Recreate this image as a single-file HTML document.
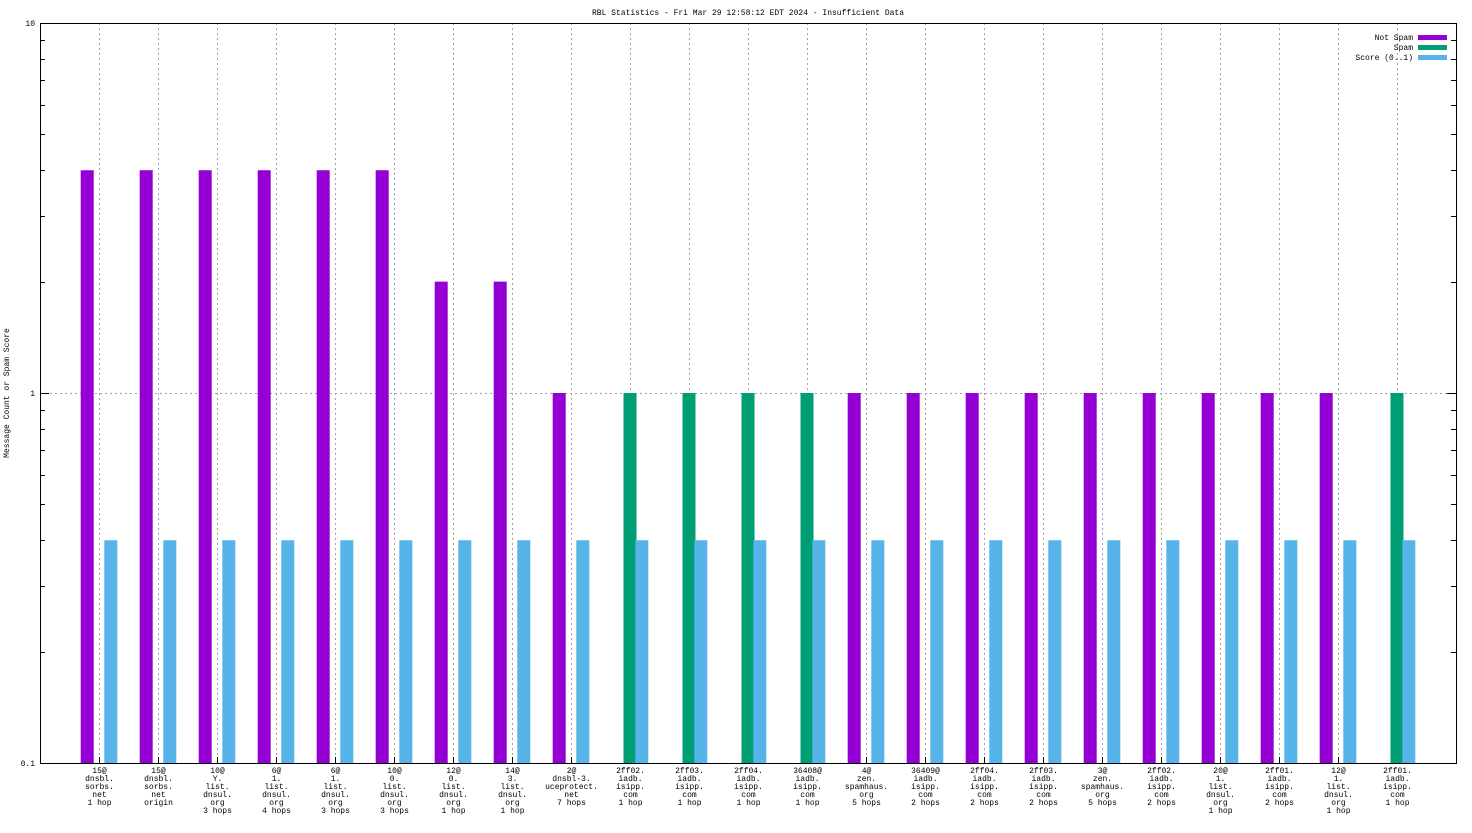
<!DOCTYPE html>
<html><head><meta charset="utf-8"><style>
html,body{margin:0;padding:0;background:#fff;}
svg text{font-family:"Liberation Mono","DejaVu Sans Mono",monospace;font-size:8px;fill:#000;}
</style></head><body>
<svg id="chart" width="1472" height="828" xmlns="http://www.w3.org/2000/svg">
<text x="748" y="15" text-anchor="middle">RBL Statistics - Fri Mar 29 12:58:12 EDT 2024 - Insufficient Data</text>
<text transform="translate(9,393) rotate(-90)" text-anchor="middle">Message Count or Spam Score</text>
<g id="grid"></g><g id="bars"></g><g id="axes"></g><g id="legend"></g>
</svg>
<script>
const categories = [
["15@","dnsbl.","sorbs.","net","1 hop"],["15@","dnsbl.","sorbs.","net","origin"],
["10@","Y.","list.","dnsul.","org","3 hops"],["6@","1.","list.","dnsul.","org","4 hops"],
["6@","1.","list.","dnsul.","org","3 hops"],["10@","0.","list.","dnsul.","org","3 hops"],
["12@","0.","list.","dnsul.","org","1 hop"],["14@","3.","list.","dnsul.","org","1 hop"],
["2@","dnsbl-3.","uceprotect.","net","7 hops"],["2ff02.","iadb.","isipp.","com","1 hop"],
["2ff03.","iadb.","isipp.","com","1 hop"],["2ff04.","iadb.","isipp.","com","1 hop"],
["36408@","iadb.","isipp.","com","1 hop"],["4@","zen.","spamhaus.","org","5 hops"],
["36409@","iadb.","isipp.","com","2 hops"],["2ff04.","iadb.","isipp.","com","2 hops"],
["2ff03.","iadb.","isipp.","com","2 hops"],["3@","zen.","spamhaus.","org","5 hops"],
["2ff02.","iadb.","isipp.","com","2 hops"],["20@","1.","list.","dnsul.","org","1 hop"],
["2ff01.","iadb.","isipp.","com","2 hops"],["12@","1.","list.","dnsul.","org","1 hop"],
["2ff01.","iadb.","isipp.","com","1 hop"]];
const notSpam = [4,4,4,4,4,4,2,2,1,0,0,0,0,1,1,1,1,1,1,1,1,1,0];
const spam    = [0,0,0,0,0,0,0,0,0,1,1,1,1,0,0,0,0,0,0,0,0,0,1];
const score   = [0.4,0.4,0.4,0.4,0.4,0.4,0.4,0.4,0.4,0.4,0.4,0.4,0.4,0.4,0.4,0.4,0.4,0.4,0.4,0.4,0.4,0.4,0.4];
const yTicks = [0.1,1,10];
const yTickLabels = ["0.1","1","10"];

const L=40,R=1456,T=23,B=763,NS="http://www.w3.org/2000/svg";
const xS=v=>L+(v+1)*(R-L)/24;
const yS=v=>B-(Math.log10(v)+1)*(B-T)/2;
function mk(tag,attrs,parent,txt){const e=document.createElementNS(NS,tag);for(const k in attrs)e.setAttribute(k,attrs[k]);if(txt!=null)e.textContent=txt;document.getElementById(parent).appendChild(e);return e;}
categories.forEach((c,i)=>{const x=Math.round(xS(i))+0.5;
 const g=mk('line',{x1:x,x2:x,y1:T,y2:B,stroke:'#a0a0a0','stroke-dasharray':'2,3','stroke-width':1},'grid');
 
 
 const t=mk('line',{x1:x,x2:x,y1:B,y2:B-6,stroke:'#000'},'grid');
 
 
 const tx=mk('text',{x:x,y:B+10,'text-anchor':'middle'},'axes');
 
 
 c.forEach((s,j)=>{const ts=document.createElementNS(NS,'tspan');ts.setAttribute('x',x);ts.setAttribute('dy',j?8:0);ts.textContent=s;tx.appendChild(ts);});
});
{const y=Math.round(yS(1))+0.5;const g=mk('line',{x1:L,x2:R,y1:y,y2:y,stroke:'#a0a0a0','stroke-dasharray':'2,3'},'grid');
 
 }
for(let d=-1;d<1;d++){for(let m=1;m<10;m++){const v=m*Math.pow(10,d);const y=Math.round(yS(v))+0.5;const len=m===1?9:5;
 const a=mk('line',{x1:L,x2:L+len,y1:y,y2:y,stroke:'#000'},'axes');
 
 
 const b=mk('line',{x1:R,x2:R-len,y1:y,y2:y,stroke:'#000'},'axes');
 
 }}
yTicks.forEach((v,i)=>{const t=mk('text',{x:L-5,y:yS(v)+3,'text-anchor':'end'},'axes',yTickLabels[i]);
 
 });
const bw=13*24/(R-L);
function bar(val,off,color,name){for(let i=0;i<val.length;i++){if(!(val[i]>0))continue;
 const x0=xS(i+off-bw/2),y=yS(val[i]);
 const r=mk('rect',{x:x0,y:y,width:xS(i+off+bw/2)-x0,height:B-y,fill:color},'bars');
 
 }}
bar(notSpam,-0.2,'#9400d3','bar-not-spam');
bar(spam,0,'#009e73','bar-spam');
bar(score,0.2,'#56b4e9','bar-score');
{const f=mk('rect',{x:L+0.5,y:T+0.5,width:R-L,height:B-T,fill:'none',stroke:'#000'},'axes');
 
 }
[["Not Spam",'#9400d3'],["Spam",'#009e73'],["Score (0..1)",'#56b4e9']].forEach((e,i)=>{const y=37+i*10;
 const t=mk('text',{x:1413,y:y+3,'text-anchor':'end'},'legend',e[0]);
 
 
 const r=mk('rect',{x:1418,y:y-2,width:29,height:5,fill:e[1]},'legend');
 
 });
</script>
</body></html>
